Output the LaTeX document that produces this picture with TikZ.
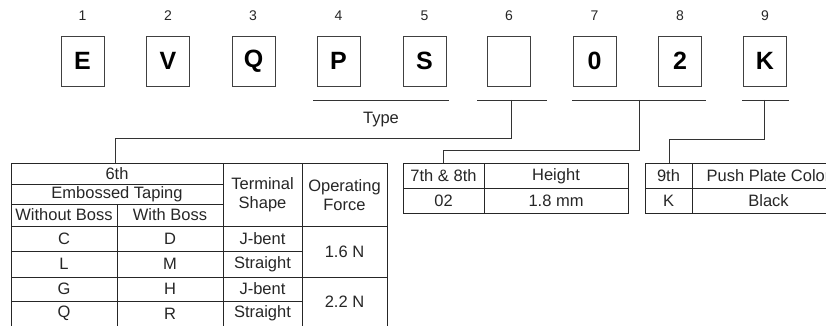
\documentclass[tikz,border=0pt]{standalone}
\usepackage{fontspec}
\setmainfont{Liberation Sans}
\usepackage{tikz}

\begin{document}
\begin{tikzpicture}[x=1pt,y=-1pt,
    cbox/.style={draw=black!75,line width=0.8pt,minimum width=43pt,minimum height=50pt,inner sep=0pt,font=\fontsize{25}{25}\selectfont\bfseries},
    digit/.style={font=\fontsize{14}{16}\selectfont,text=black!85},
    cell/.style={font=\fontsize{16.5}{19}\selectfont,text=black!85,align=center,inner sep=0pt},
    rule/.style={draw=black!80,line width=0.8pt},
    grid/.style={draw=black!85,line width=1pt}]
    \useasboundingbox (0,0) rectangle (826,326);
    \clip (0,0) rectangle (826,326);

    % code boxes and positions
    \node[digit] (d1) at (82.5,16) {1};
    \node[digit] (d2) at (168,16) {2};
    \node[digit] (d3) at (253,16) {3};
    \node[digit] (d4) at (338.5,16) {4};
    \node[digit] (d5) at (424.5,16) {5};
    \node[digit] (d6) at (509,16) {6};
    \node[digit] (d7) at (594.5,16) {7};
    \node[digit] (d8) at (680,16) {8};
    \node[digit] (d9) at (765,16) {9};

    \node[cbox] (b1) at (82.5,61) {E};
    \node[cbox] (b2) at (168,61) {V};
    \node[cbox] (b3) at (253.5,61) {Q};
    \node[cbox] (b4) at (338.5,61) {P};
    \node[cbox] (b5) at (424.5,61) {S};
    \node[cbox] (b6) at (509,61) {};
    \node[cbox] (b7) at (594.5,61) {0};
    \node[cbox] (b8) at (680,61) {2};
    \node[cbox] (b9) at (765,61) {K};

    % underlines
    \coordinate (typeL) at (313,100);
    \coordinate (typeR) at (449,100);
    \coordinate (sixL) at (477,100);
    \coordinate (sixR) at (547,100);
    \coordinate (htL) at (572,100);
    \coordinate (htR) at (706,100);
    \coordinate (colL) at (742,100);
    \coordinate (colR) at (789,100);
    \draw[rule] (typeL) -- (typeR);
    \draw[rule] (sixL) -- (sixR);
    \draw[rule] (htL) -- (htR);
    \draw[rule] (colL) -- (colR);
    \node[cell] (type) at (381,120) {Type};

    % leaders to the tables
    \coordinate (six) at (511,100);
    \coordinate (ht) at (639,100);
    \coordinate (col) at (764,100);
    \coordinate (tabA) at (115,163);
    \coordinate (tabB) at (443,163);
    \coordinate (tabC) at (669,163);
    \draw[rule] (six) -- ++(0,38) -| (tabA);
    \draw[rule] (ht) -- ++(0,50) -| (tabB);
    \draw[rule] (col) -- ++(0,39) -| (tabC);

    % table of the 6th digit
    \draw[grid] (11,330) -- (11,163) -- (387,163) -- (387,330);
    \draw[grid] (11,184) -- (223,184);
    \draw[grid] (11,204) -- (223,204);
    \draw[grid] (11,226) -- (387,226);
    \draw[grid] (11,251) -- (302,251);
    \draw[grid] (11,277) -- (387,277);
    \draw[grid] (11,301) -- (302,301);
    \draw[grid] (117,204) -- (117,330);
    \draw[grid] (223,163) -- (223,330);
    \draw[grid] (302,163) -- (302,330);

    \node[cell] (sixth) at (117,173.5) {6th};
    \node[cell] (emb) at (117,194) {Embossed Taping};
    \node[cell] (noboss) at (64,215) {Without Boss};
    \node[cell] (boss) at (170,215) {With Boss};
    \node[cell] (term) at (262.5,195) {Terminal\\Shape};
    \node[cell] (force) at (344.5,195) {Operating\\Force};

    \node[cell] (c) at (64,238.5) {C};
    \node[cell] (dd) at (170,238.5) {D};
    \node[cell] (jb1) at (262.5,238.5) {J-bent};
    \node[cell] (l) at (64,264) {L};
    \node[cell] (m) at (170,264) {M};
    \node[cell] (st1) at (262.5,264) {Straight};
    \node[cell] (g) at (64,289) {G};
    \node[cell] (h) at (170,289) {H};
    \node[cell] (jb2) at (262.5,289) {J-bent};
    \node[cell] (q) at (64,313.5) {Q};
    \node[cell] (r) at (170,313.5) {R};
    \node[cell] (st2) at (262.5,313.5) {Straight};
    \node[cell] (f16) at (344.5,252) {1.6 N};
    \node[cell] (f22) at (344.5,302) {2.2 N};

    % table of the 7th & 8th digits
    \draw[grid] (403,163) rectangle (628,213);
    \draw[grid] (403,188) -- (628,188);
    \draw[grid] (484,163) -- (484,213);
    \node[cell] (hnum) at (443.5,176) {7th \& 8th};
    \node[cell] (hname) at (556,176) {Height};
    \node[cell] (hcode) at (443.5,201) {02};
    \node[cell] (hval) at (556,201) {1.8 mm};

    % table of the 9th digit
    \draw[grid] (845,163) -- (645,163) -- (645,213) -- (845,213);
    \draw[grid] (645,188) -- (845,188);
    \draw[grid] (692,163) -- (692,213);
    \node[cell] (cnum) at (668.5,176) {9th};
    \node[cell] (cname) at (768.5,176) {Push Plate Color};
    \node[cell] (ccode) at (668.5,201) {K};
    \node[cell] (cval) at (768.5,201) {Black};
\end{tikzpicture}
\end{document}
